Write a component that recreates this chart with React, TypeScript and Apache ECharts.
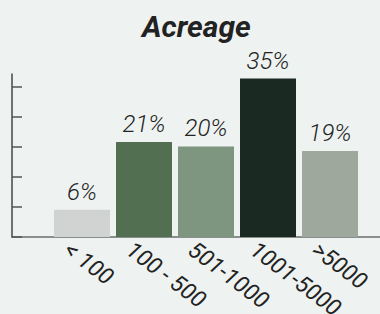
import React, { useEffect, useRef } from "react";
import * as echarts from "echarts";

const categories = ["< 100", "100 - 500", "501-1000", "1001-5000", ">5000"];
const values = [6, 21, 20, 35, 19];
const barColors = ["#d0d3d1", "#526f52", "#7e9580", "#1b2923", "#9ea89c"];
const yTicks = [0, 6.625, 13.25, 19.875, 26.5, 33.125];
const yMax = 36;

export default function App() {
  const ref = useRef<HTMLDivElement>(null);
  useEffect(() => {
    if (!ref.current) return;
    const chart = echarts.init(ref.current, null, { renderer: "svg" });
    chart.setOption({
      animation: false,
      backgroundColor: "#eef2f1",
      title: {
        text: "Acreage",
        left: 137,
        top: 6,
        textStyle: {
          fontFamily: "Roboto",
          fontSize: 30,
          fontWeight: "bold",
          fontStyle: "italic",
          color: "#222222",
        },
      },
      grid: [
        { left: 51, right: 19, top: 74, bottom: 77, outerBoundsMode: "none", containLabel: false },
        { left: 12, right: 0, top: 74, bottom: 77, outerBoundsMode: "none", containLabel: false },
        { left: 36, right: 34, top: 74, bottom: 77, outerBoundsMode: "none", containLabel: false },
      ],
      xAxis: [
        {
          type: "category",
          data: categories,
          gridIndex: 0,
          axisLine: { show: false },
          axisTick: { show: false },
          axisLabel: { show: false },
        },
        {
          type: "value",
          gridIndex: 1,
          min: 0,
          max: 1,
          axisLine: { show: true, lineStyle: { color: "#6a6d6c", width: 1.5 } },
          axisTick: { show: false },
          axisLabel: { show: false },
          splitLine: { show: false },
        },
        {
          type: "category",
          data: categories,
          gridIndex: 2,
          axisLine: { show: false },
          axisTick: { show: false },
          axisLabel: {
            rotate: -37,
            margin: 10,
            fontFamily: "Roboto",
            fontStyle: "italic",
            fontSize: 23,
            color: "#222222",
            interval: 0,
          },
        },
      ],
      yAxis: [
        {
          type: "value",
          gridIndex: 0,
          min: 0,
          max: yMax,
          show: false,
          splitLine: { show: false },
        },
        {
          type: "value",
          gridIndex: 1,
          min: 0,
          max: yMax,
          axisLine: { show: true, lineStyle: { color: "#444444", width: 1.5 } },
          axisTick: {
            show: true,
            inside: true,
            length: 10,
            customValues: yTicks,
            lineStyle: { color: "#555555", width: 1.5 },
          },
          axisLabel: { show: false },
          splitLine: { show: false },
        },
        {
          type: "value",
          gridIndex: 2,
          min: 0,
          max: yMax,
          show: false,
          splitLine: { show: false },
        },
      ],
      series: [
        {
          type: "bar",
          xAxisIndex: 0,
          yAxisIndex: 0,
          barWidth: 56,
          data: values.map((v, i) => ({ value: v, itemStyle: { color: barColors[i] } })),
          label: {
            show: true,
            position: "top",
            distance: 6,
            formatter: "{c}%",
            fontFamily: "Roboto",
            fontStyle: "italic",
            fontWeight: 300,
            fontSize: 24,
            color: "#222222",
          },
        },
      ],
    });
    return () => chart.dispose();
  }, []);
  return <div ref={ref} style={{ width: 380, height: 314, position: "fixed", left: 0, top: 0 }} />;
}
